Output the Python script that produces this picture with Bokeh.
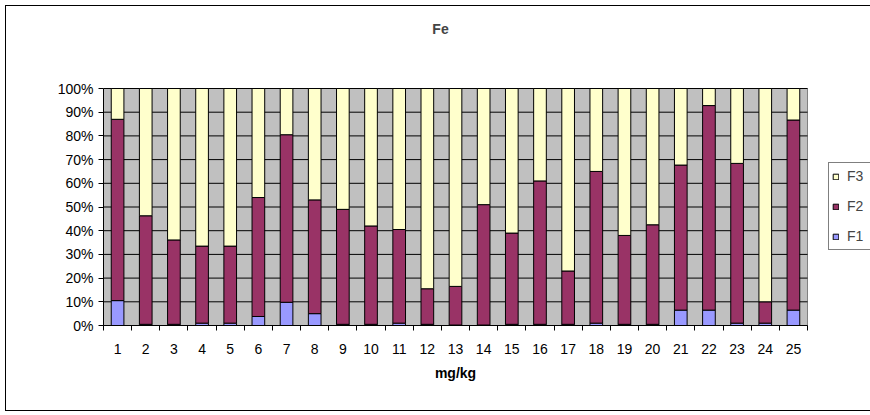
from bokeh.plotting import figure
from bokeh.models import (ColumnDataSource, Range1d, FixedTicker, NumeralTickFormatter,
                          Legend, LegendItem, Label, LinearAxis)
from bokeh.embed import file_html
from bokeh.resources import INLINE

categories = [str(i) for i in range(1, 26)]
F1 = [10.5, 0.5, 0.5, 1.0, 1.0, 3.8, 9.8, 5.0, 0.5, 0.5, 1.0, 0.5, 0.2,
      0.2, 0.5, 0.5, 0.5, 1.0, 0.5, 0.5, 6.5, 6.5, 1.0, 1.0, 6.5]
F2 = [76.5, 45.8, 35.6, 32.5, 32.5, 50.2, 70.7, 48.0, 48.5, 41.5, 39.5, 15.0, 16.3,
      50.8, 38.5, 60.5, 22.5, 64.0, 37.5, 42.0, 61.2, 86.3, 67.4, 9.0, 80.2]
F3 = [13.0, 53.7, 63.9, 66.5, 66.5, 46.0, 19.5, 47.0, 51.0, 58.0, 59.5, 84.5, 83.5,
      49.0, 61.0, 39.0, 77.0, 35.0, 62.0, 57.5, 32.3, 7.2, 31.6, 90.0, 13.3]
series = ["F1", "F2", "F3"]
colors = ["#9999FF", "#993366", "#FFFFCC"]
y_ticks = [0.0, 0.1, 0.2, 0.3, 0.4, 0.5, 0.6, 0.7, 0.8, 0.9, 1.0]
title_text = "Fe"
x_title = "mg/kg"

FONT = "Liberation Sans"
FS = "14px"

n = len(categories)
xs = list(range(1, n + 1))
tot = [a + b + c for a, b, c in zip(F1, F2, F3)]
src = ColumnDataSource(dict(
    x=xs,
    F1=[a / t for a, t in zip(F1, tot)],
    F2=[b / t for b, t in zip(F2, tot)],
    F3=[c / t for c, t in zip(F3, tot)],
))

# page geometry (px): plot area 103..807 x 88..325
W, H = 870, 415
L, R, T, B = 103, 807, 88, 325
px_per_cat = (R - L) / n
px_per_unit = (B - T) / 1.0

x_lo, x_hi = 0.5, n + 0.5
x_end = x_lo + (W - L) / px_per_cat          # frame runs to the right canvas edge
y_end = B / px_per_unit                       # frame runs to the top canvas edge

p = figure(width=W, height=H, x_range=Range1d(x_lo, x_end), y_range=Range1d(0, y_end),
           output_backend="svg", toolbar_location=None,
           min_border_left=L, min_border_right=0, min_border_top=0,
           min_border_bottom=H - B)
p.title.text = ""
p.background_fill_color = "white"
p.border_fill_color = "white"
p.outline_line_color = None
p.xgrid.visible = False
p.ygrid.visible = False

# chart-area border (left, top, bottom) drawn as an overlay box
p.stylesheets = [
    ":host::after { content: ''; position: absolute; left: 5px; top: 5px; "
    "width: 865px; height: 406px; box-sizing: border-box; "
    "border-left: 1px solid black; border-top: 1px solid black; "
    "border-bottom: 1px solid black; pointer-events: none; z-index: 10; }"
]

# plot area
p.quad(left=[x_lo], right=[x_hi], bottom=[0], top=[1],
       fill_color="#C0C0C0", line_color="#808080", line_width=1)
# horizontal gridlines
p.segment(x0=[x_lo] * len(y_ticks), x1=[x_hi] * len(y_ticks), y0=y_ticks, y1=y_ticks,
          line_color="black", line_width=1)

rs = p.vbar_stack(series, x="x", width=0.45, source=src, fill_color=colors,
                  line_color="black", line_width=1)

# x axis (category numbers)
xa = p.xaxis[0]
xa.bounds = (x_lo, x_hi)
xa.ticker = FixedTicker(ticks=xs, minor_ticks=[i + 0.5 for i in range(0, n + 1)])
xa.major_label_overrides = {x: c for x, c in zip(xs, categories)}
xa.major_tick_out = 5
xa.major_tick_in = 0
xa.major_tick_line_color = None
xa.minor_tick_out = 5
xa.minor_tick_in = 0
xa.minor_tick_line_color = "black"
xa.major_label_standoff = 13
xa.axis_line_color = "black"
xa.major_label_text_font = FONT
xa.major_label_text_font_size = FS
xa.major_label_text_color = "black"

# x axis title, centred under the plot area
mid = (x_lo + x_hi) / 2.0
xt = LinearAxis(ticker=FixedTicker(ticks=[mid], minor_ticks=[]),
                major_label_overrides={mid: x_title},
                axis_line_color=None, major_tick_line_color=None,
                minor_tick_line_color=None, major_tick_out=0, major_tick_in=0,
                minor_tick_out=0, minor_tick_in=0, major_label_standoff=8,
                major_label_text_font=FONT, major_label_text_font_size=FS,
                major_label_text_font_style="bold", major_label_text_color="black")
p.add_layout(xt, "below")

ya = p.yaxis[0]
ya.bounds = (0, 1)
ya.ticker = FixedTicker(ticks=y_ticks)
ya.formatter = NumeralTickFormatter(format="0%")
ya.major_tick_out = 5
ya.major_tick_in = 0
ya.minor_tick_out = 0
ya.minor_tick_in = 0
ya.major_label_standoff = 5
ya.axis_line_color = "black"
ya.major_label_text_font = FONT
ya.major_label_text_font_size = FS
ya.major_label_text_color = "black"

# chart title
p.add_layout(Label(x=x_lo + (440 - L) / px_per_cat, y=(B - 28) / px_per_unit,
                   text=title_text, text_font=FONT, text_font_size=FS,
                   text_font_style="bold", text_align="center",
                   text_baseline="middle"))

legend = Legend(items=[LegendItem(label=s, renderers=[r]) for s, r in
                       zip(series[::-1], rs[::-1])],
                location=(828 - L, B - 250), orientation="vertical",
                glyph_width=7, glyph_height=7, label_height=20, spacing=10,
                padding=3, margin=0, label_standoff=8, label_width=20,
                label_text_font=FONT, label_text_font_size=FS,
                border_line_color="black", border_line_width=1,
                background_fill_color="white", background_fill_alpha=1)
p.add_layout(legend)

open("out.html", "w").write(file_html(p, INLINE))
